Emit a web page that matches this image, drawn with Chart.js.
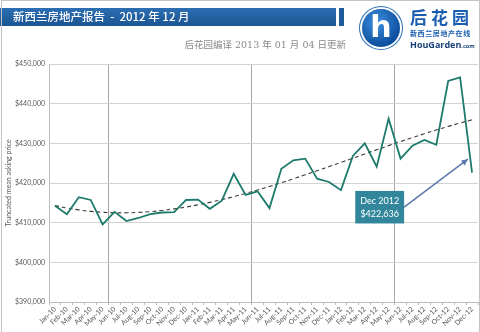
<!DOCTYPE html>
<html>
<head>
<meta charset="utf-8">
<script src="https://cdn.jsdelivr.net/npm/chart.js@4/dist/chart.umd.min.js"></script>
<style>
  html, body { margin: 0; padding: 0; background: #fff; }
  #wrap { position: relative; width: 480px; height: 332px; overflow: hidden; }
  #wrap canvas { position: absolute; left: 0; top: 0; }
  .frame { position: absolute; left: 1px; top: 0; width: 477px; height: 331px; border: 1px solid #c4c4c4; border-bottom: none; pointer-events: none; }
  .bar { position: absolute; left: 0; top: 8px; width: 336px; height: 18px;
         background: linear-gradient(#2b6eb2, #1c5592); }
  .bar2 { position: absolute; left: 339px; top: 8px; width: 5px; height: 18px; background: #1f5c9c; }
  .title { position: absolute; left: 13px; top: 8px; line-height: 18px; color: #fff;
           font: 500 11.5px "Noto Sans CJK SC", sans-serif; white-space: nowrap; }
  .sub { position: absolute; right: 134px; top: 37px; color: #8a8a8a;
         font: 9.5px "DejaVu Serif", "Noto Sans CJK SC", serif; white-space: nowrap; }
  .logo { position: absolute; left: 362px; top: 9px; width: 38px; height: 38px; border-radius: 50%;
          background: radial-gradient(circle at 40% 35%, #3d8fe0, #0d4f9e 70%);
          box-shadow: 0 0 0 2px #fff, 0 0 0 3px #2a6fb8; }
  .logo span { position: absolute; left: 0; width: 38px; top: 1px; text-align: center; color: #fff;
               font: bold 30px "DejaVu Sans", sans-serif; line-height: 34px; }
  .brand { position: absolute; left: 410px; top: 6px; color: #1a5db0; font: bold 17px "Noto Sans CJK SC", sans-serif;
           letter-spacing: 4px; white-space: nowrap; line-height: 22px; }
  .brand2 { position: absolute; left: 410px; top: 28px; color: #1a5db0; font: bold 7px "Noto Sans CJK SC", sans-serif;
            letter-spacing: 0.6px; white-space: nowrap; }
  .brand3 { position: absolute; left: 410px; top: 38px; color: #173f78; font: bold 9px "Open Sans", sans-serif; white-space: nowrap; }
  .brand3 small { font-size: 5.5px; }
</style>
</head>
<body>
<div id="wrap">
  <canvas id="priceChart" width="480" height="332"></canvas>
  <div class="bar"></div>
  <div class="bar2"></div>
  <div class="title">新西兰房地产报告 &nbsp;- &nbsp;2012 年 12 月</div>
  <div class="sub">后花园编译 2013 年 01 月 04 日更新</div>
  <div class="logo"><span>h</span></div>
  <div class="brand">后花园</div>
  <div class="brand2">新西兰房地产在线</div>
  <div class="brand3">HouGarden<small>.com</small></div>
  <div class="frame"></div>
</div>
<script>
const months = [
  "Jan-10", "Feb-10", "Mar-10", "Apr-10", "May-10", "Jun-10",
  "Jul-10", "Aug-10", "Sep-10", "Oct-10", "Nov-10", "Dec-10",
  "Jan-11", "Feb-11", "Mar-11", "Apr-11", "May-11", "Jun-11",
  "Jul-11", "Aug-11", "Sep-11", "Oct-11", "Nov-11", "Dec-11",
  "Jan-12", "Feb-12", "Mar-12", "Apr-12", "May-12", "Jun-12",
  "Jul-12", "Aug-12", "Sep-12", "Oct-12", "Nov-12", "Dec-12",
];

const askingPrice = [
  414260, 412130, 416410, 415720, 409560, 412720,
  410410, 411180, 412130, 412560, 412640, 415720,
  415800, 413490, 415540, 422310, 417000, 417900,
  413670, 423590, 425720, 426150, 421100, 420260,
  418200, 426820, 430000, 424100, 436230, 426150,
  429400, 430850, 429640, 445720, 446600, 422636,
];

const yTicks = [390000, 400000, 410000, 420000, 430000, 440000, 450000];

// year boundaries (between May and Jun) that get a vertical gridline
const yearLines = [5, 17, 29];

// least-squares polynomial trend through the asking prices
function polyTrend(values, degree) {
  let n = values.length;
  let size = degree + 1;
  let m = [];
  for (let r = 0; r < size; r++) {
    m.push(new Array(size + 1).fill(0));
  }
  for (let i = 0; i < n; i++) {
    let x = (i + 1) / n;
    for (let r = 0; r < size; r++) {
      for (let c = 0; c < size; c++) m[r][c] += Math.pow(x, r + c);
      m[r][size] += values[i] * Math.pow(x, r);
    }
  }
  for (let c = 0; c < size; c++) {
    for (let r = c + 1; r < size; r++) {
      let f = m[r][c] / m[c][c];
      for (let k = c; k <= size; k++) m[r][k] -= f * m[c][k];
    }
  }
  let coef = new Array(size).fill(0);
  for (let r = size - 1; r >= 0; r--) {
    let sum = m[r][size];
    for (let k = r + 1; k < size; k++) sum -= m[r][k] * coef[k];
    coef[r] = sum / m[r][r];
  }
  return values.map((v, i) => {
    let x = (i + 1) / n;
    return coef.reduce((acc, a, k) => acc + a * Math.pow(x, k), 0);
  });
}

function money(v) {
  return "$" + v.toLocaleString("en-US");
}

// callout box with an arrow pointing at the last month
const calloutPlugin = {
  id: "callout",
  afterDatasetsDraw(chart) {
    let ctx = chart.ctx;
    let x = chart.scales.x;
    let y = chart.scales.y;
    let last = askingPrice.length - 1;

    let left = x.getPixelForValue(25.2);
    let right = x.getPixelForValue(29.3);
    let top = y.getPixelForValue(418000);
    let bottom = y.getPixelForValue(409800);

    let startX = right;
    let startY = (top + bottom) / 2;
    let tipX = x.getPixelForValue(last - 0.35);
    let tipY = y.getPixelForValue(426000);

    ctx.save();
    ctx.strokeStyle = "#5a78ad";
    ctx.fillStyle = "#5a78ad";
    ctx.lineWidth = 1.5;
    ctx.beginPath();
    ctx.moveTo(startX, startY);
    ctx.lineTo(tipX, tipY);
    ctx.stroke();
    let ang = Math.atan2(tipY - startY, tipX - startX);
    ctx.beginPath();
    ctx.moveTo(tipX, tipY);
    ctx.lineTo(tipX - 7 * Math.cos(ang - 0.45), tipY - 7 * Math.sin(ang - 0.45));
    ctx.lineTo(tipX - 7 * Math.cos(ang + 0.45), tipY - 7 * Math.sin(ang + 0.45));
    ctx.closePath();
    ctx.fill();

    ctx.fillStyle = "#31869b";
    ctx.fillRect(left, top, right - left, bottom - top);
    ctx.fillStyle = "#ffffff";
    ctx.font = "9px Lato";
    ctx.textAlign = "center";
    ctx.textBaseline = "middle";
    let cx = (left + right) / 2;
    ctx.fillText("Dec 2012", cx, top + (bottom - top) * 0.3);
    ctx.fillText(money(askingPrice[last]), cx, top + (bottom - top) * 0.72);
    ctx.restore();
  },
};

Chart.defaults.font.family = "Lato";
Chart.defaults.font.size = 7;
Chart.defaults.color = "#595959";

new Chart(document.getElementById("priceChart"), {
  type: "line",
  data: {
    labels: months,
    datasets: [
      {
        data: askingPrice,
        borderColor: "#1d7a6c",
        borderWidth: 1.8,
        pointRadius: 0,
        tension: 0,
      },
      {
        data: polyTrend(askingPrice, 3),
        borderColor: "#3c3c3c",
        borderWidth: 1.1,
        borderDash: [4, 3],
        pointRadius: 0,
        tension: 0.4,
      },
    ],
  },
  options: {
    responsive: false,
    animation: false,
    layout: {
      padding: { left: 5, top: 64, right: 2, bottom: 0 },
    },
    scales: {
      x: {
        offset: true,
        afterFit(scale) {
          scale.height = 30;
        },
        grid: {
          offset: true,
          color: (c) => (yearLines.includes(c.index) ? "#a8a8a8" : "rgba(0,0,0,0)"),
          tickColor: "#bcbcbc",
          tickLength: 3,
        },
        border: { color: "#bcbcbc" },
        ticks: {
          autoSkip: false,
          maxRotation: 45,
          minRotation: 45,
          padding: 0,
        },
      },
      y: {
        min: 390000,
        max: 450000,
        afterFit(scale) {
          scale.width = 44;
        },
        afterBuildTicks(scale) {
          scale.ticks = yTicks.map((v) => ({ value: v }));
        },
        grid: {
          color: "#d3d3d3",
          drawTicks: false,
        },
        border: { color: "#bcbcbc" },
        ticks: {
          padding: 4,
          callback: (v) => money(v),
        },
        title: {
          display: true,
          text: "Truncated mean asking price",
          padding: 0,
        },
      },
    },
    plugins: {
      legend: { display: false },
      tooltip: { enabled: false },
    },
  },
  plugins: [calloutPlugin],
});
</script>
</body>
</html>
